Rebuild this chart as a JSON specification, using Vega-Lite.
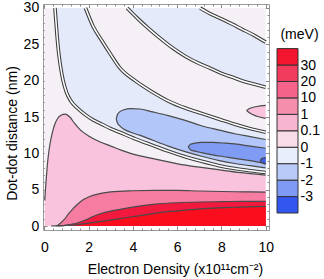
{
  "$schema": "https://vega.github.io/schema/vega-lite/v6.json",
  "padding": {"left": 4, "top": 0, "right": 0, "bottom": 0},
  "background": "white",
  "config": {
    "font": "Liberation Sans",
    "view": {"stroke": "#9a9a9a", "strokeWidth": 1},
    "axis": {"labelFont": "Liberation Sans", "titleFont": "Liberation Sans", "labelColor": "#000", "titleColor": "#000"}
  },
  "spacing": 8,
  "bounds": "flush",
  "resolve": {"scale": {"x": "independent", "y": "independent"}},
  "hconcat": [
    {
      "width": 226,
      "height": 226,
      "data": {"values": [
        {"r": "bg", "x": 0.02, "lo": 0, "hi": 30},
        {"r": "bg", "x": 10, "lo": 0, "hi": 30},
        {"r": "A", "x": 0.48, "lo": 30, "hi": 30},
        {"r": "A", "x": 0.52, "lo": 28.4, "hi": 30},
        {"r": "A", "x": 0.58, "lo": 26.0, "hi": 30},
        {"r": "A", "x": 0.65, "lo": 23.8, "hi": 30},
        {"r": "A", "x": 0.75, "lo": 21.6, "hi": 30},
        {"r": "A", "x": 0.85, "lo": 20.0, "hi": 30},
        {"r": "A", "x": 1.0, "lo": 18.4, "hi": 30},
        {"r": "A", "x": 1.2, "lo": 17.2, "hi": 30},
        {"r": "A", "x": 1.5, "lo": 16.2, "hi": 30},
        {"r": "A", "x": 1.86, "lo": 15.3, "hi": 30},
        {"r": "A", "x": 2.2, "lo": 14.6, "hi": 27.5},
        {"r": "A", "x": 2.6, "lo": 14.0, "hi": 25.5},
        {"r": "A", "x": 3.0, "lo": 13.4, "hi": 23.6},
        {"r": "A", "x": 3.4, "lo": 12.9, "hi": 21.8},
        {"r": "A", "x": 4.1, "lo": 12.0, "hi": 20.0},
        {"r": "A", "x": 4.9, "lo": 11.1, "hi": 18.4},
        {"r": "A", "x": 5.6, "lo": 10.3, "hi": 17.2},
        {"r": "A", "x": 6.4, "lo": 9.5, "hi": 16.2},
        {"r": "A", "x": 7.1, "lo": 8.9, "hi": 15.5},
        {"r": "A", "x": 7.9, "lo": 8.3, "hi": 14.7},
        {"r": "A", "x": 8.6, "lo": 7.9, "hi": 14.0},
        {"r": "A", "x": 9.3, "lo": 7.6, "hi": 13.4},
        {"r": "A", "x": 10, "lo": 7.35, "hi": 12.9},
        {"r": "B", "x": 3.74, "lo": 30, "hi": 30},
        {"r": "B", "x": 4.2, "lo": 28.6, "hi": 30},
        {"r": "B", "x": 4.7, "lo": 27.2, "hi": 30},
        {"r": "B", "x": 5.17, "lo": 26.0, "hi": 30},
        {"r": "B", "x": 5.8, "lo": 24.5, "hi": 30},
        {"r": "B", "x": 6.4, "lo": 23.3, "hi": 30},
        {"r": "B", "x": 7.04, "lo": 22.3, "hi": 30},
        {"r": "B", "x": 7.5, "lo": 21.7, "hi": 29.2},
        {"r": "B", "x": 8.0, "lo": 21.0, "hi": 28.5},
        {"r": "B", "x": 8.47, "lo": 20.5, "hi": 27.8},
        {"r": "B", "x": 8.92, "lo": 20.0, "hi": 27.1},
        {"r": "B", "x": 9.5, "lo": 19.5, "hi": 26.2},
        {"r": "B", "x": 10, "lo": 19.1, "hi": 25.3},
        {"r": "T", "x": 9.14, "lo": 15.9, "hi": 15.9},
        {"r": "T", "x": 9.3, "lo": 15.5, "hi": 16.2},
        {"r": "T", "x": 9.6, "lo": 15.1, "hi": 16.45},
        {"r": "T", "x": 10, "lo": 14.8, "hi": 16.6},
        {"r": "M", "x": 3.25, "lo": 14.75, "hi": 14.75},
        {"r": "M", "x": 3.3, "lo": 14.2, "hi": 15.3},
        {"r": "M", "x": 3.4, "lo": 13.8, "hi": 15.7},
        {"r": "M", "x": 3.6, "lo": 13.3, "hi": 16.0},
        {"r": "M", "x": 3.9, "lo": 12.9, "hi": 16.15},
        {"r": "M", "x": 4.3, "lo": 12.5, "hi": 16.1},
        {"r": "M", "x": 4.9, "lo": 11.8, "hi": 15.7},
        {"r": "M", "x": 5.6, "lo": 11.0, "hi": 15.2},
        {"r": "M", "x": 6.4, "lo": 10.2, "hi": 14.5},
        {"r": "M", "x": 7.1, "lo": 9.6, "hi": 13.8},
        {"r": "M", "x": 7.9, "lo": 9.0, "hi": 13.2},
        {"r": "M", "x": 8.6, "lo": 8.6, "hi": 12.7},
        {"r": "M", "x": 9.3, "lo": 8.3, "hi": 12.3},
        {"r": "M", "x": 10, "lo": 8.0, "hi": 11.9},
        {"r": "D", "x": 6.5, "lo": 10.9, "hi": 10.9},
        {"r": "D", "x": 6.6, "lo": 10.5, "hi": 11.25},
        {"r": "D", "x": 6.8, "lo": 10.3, "hi": 11.4},
        {"r": "D", "x": 7.1, "lo": 10.1, "hi": 11.5},
        {"r": "D", "x": 7.6, "lo": 9.8, "hi": 11.5},
        {"r": "D", "x": 8.2, "lo": 9.5, "hi": 11.4},
        {"r": "D", "x": 8.6, "lo": 9.3, "hi": 11.3},
        {"r": "D", "x": 9.3, "lo": 9.0, "hi": 11.0},
        {"r": "D", "x": 10, "lo": 8.6, "hi": 10.7},
        {"r": "E", "x": 9.75, "lo": 9.0, "hi": 9.0},
        {"r": "E", "x": 9.82, "lo": 8.75, "hi": 9.25},
        {"r": "E", "x": 9.9, "lo": 8.6, "hi": 9.35},
        {"r": "E", "x": 10, "lo": 8.5, "hi": 9.4},
        {"r": "P", "x": 0.02, "lo": 0, "hi": 3.5},
        {"r": "P", "x": 0.05, "lo": 0, "hi": 5.0},
        {"r": "P", "x": 0.1, "lo": 0, "hi": 7.0},
        {"r": "P", "x": 0.15, "lo": 0, "hi": 8.8},
        {"r": "P", "x": 0.22, "lo": 0, "hi": 10.6},
        {"r": "P", "x": 0.3, "lo": 0, "hi": 12.0},
        {"r": "P", "x": 0.4, "lo": 0, "hi": 13.3},
        {"r": "P", "x": 0.5, "lo": 0, "hi": 14.2},
        {"r": "P", "x": 0.6, "lo": 0, "hi": 14.8},
        {"r": "P", "x": 0.75, "lo": 0, "hi": 15.25},
        {"r": "P", "x": 0.95, "lo": 0, "hi": 15.4},
        {"r": "P", "x": 1.15, "lo": 0, "hi": 15.0},
        {"r": "P", "x": 1.35, "lo": 0, "hi": 14.2},
        {"r": "P", "x": 1.6, "lo": 0, "hi": 13.3},
        {"r": "P", "x": 2.0, "lo": 0, "hi": 12.4},
        {"r": "P", "x": 2.5, "lo": 0, "hi": 11.6},
        {"r": "P", "x": 3.0, "lo": 0, "hi": 11.0},
        {"r": "P", "x": 3.5, "lo": 0, "hi": 10.4},
        {"r": "P", "x": 4.0, "lo": 0, "hi": 9.9},
        {"r": "P", "x": 4.7, "lo": 0, "hi": 9.4},
        {"r": "P", "x": 5.5, "lo": 0, "hi": 8.9},
        {"r": "P", "x": 6.3, "lo": 0, "hi": 8.4},
        {"r": "P", "x": 7.0, "lo": 0, "hi": 8.1},
        {"r": "P", "x": 8.0, "lo": 0, "hi": 7.7},
        {"r": "P", "x": 9.0, "lo": 0, "hi": 7.3},
        {"r": "P", "x": 10, "lo": 0, "hi": 7.0},
        {"r": "Q", "x": 0.55, "lo": 0, "hi": 0},
        {"r": "Q", "x": 0.7, "lo": 0, "hi": 0.3},
        {"r": "Q", "x": 0.9, "lo": 0, "hi": 0.9},
        {"r": "Q", "x": 1.1, "lo": 0, "hi": 1.7},
        {"r": "Q", "x": 1.3, "lo": 0, "hi": 2.4},
        {"r": "Q", "x": 1.5, "lo": 0, "hi": 3.0},
        {"r": "Q", "x": 1.75, "lo": 0, "hi": 3.6},
        {"r": "Q", "x": 2.0, "lo": 0, "hi": 4.0},
        {"r": "Q", "x": 2.5, "lo": 0, "hi": 4.45},
        {"r": "Q", "x": 3.0, "lo": 0, "hi": 4.7},
        {"r": "Q", "x": 4.0, "lo": 0, "hi": 4.85},
        {"r": "Q", "x": 5.0, "lo": 0, "hi": 4.9},
        {"r": "Q", "x": 6.0, "lo": 0, "hi": 4.9},
        {"r": "Q", "x": 7.0, "lo": 0, "hi": 4.82},
        {"r": "Q", "x": 8.0, "lo": 0, "hi": 4.75},
        {"r": "Q", "x": 9.0, "lo": 0, "hi": 4.7},
        {"r": "Q", "x": 10, "lo": 0, "hi": 4.67},
        {"r": "R", "x": 0.6, "lo": 0, "hi": 0},
        {"r": "R", "x": 1.0, "lo": 0, "hi": 0.12},
        {"r": "R", "x": 1.4, "lo": 0, "hi": 0.35},
        {"r": "R", "x": 1.8, "lo": 0, "hi": 0.75},
        {"r": "R", "x": 2.2, "lo": 0, "hi": 1.3},
        {"r": "R", "x": 2.6, "lo": 0, "hi": 1.75},
        {"r": "R", "x": 3.0, "lo": 0, "hi": 2.05},
        {"r": "R", "x": 3.6, "lo": 0, "hi": 2.4},
        {"r": "R", "x": 4.2, "lo": 0, "hi": 2.7},
        {"r": "R", "x": 5.0, "lo": 0, "hi": 3.0},
        {"r": "R", "x": 6.0, "lo": 0, "hi": 3.2},
        {"r": "R", "x": 7.0, "lo": 0, "hi": 3.3},
        {"r": "R", "x": 8.0, "lo": 0, "hi": 3.35},
        {"r": "R", "x": 9.0, "lo": 0, "hi": 3.4},
        {"r": "R", "x": 10, "lo": 0, "hi": 3.4},
        {"r": "S", "x": 0.3, "lo": 0, "hi": 0},
        {"r": "S", "x": 1.0, "lo": 0, "hi": 0.08},
        {"r": "S", "x": 1.5, "lo": 0, "hi": 0.2},
        {"r": "S", "x": 2.0, "lo": 0, "hi": 0.4},
        {"r": "S", "x": 2.9, "lo": 0, "hi": 0.78},
        {"r": "S", "x": 3.6, "lo": 0, "hi": 1.1},
        {"r": "S", "x": 4.4, "lo": 0, "hi": 1.47},
        {"r": "S", "x": 5.2, "lo": 0, "hi": 1.85},
        {"r": "S", "x": 5.9, "lo": 0, "hi": 2.06},
        {"r": "S", "x": 6.6, "lo": 0, "hi": 2.25},
        {"r": "S", "x": 7.4, "lo": 0, "hi": 2.43},
        {"r": "S", "x": 8.5, "lo": 0, "hi": 2.58},
        {"r": "S", "x": 10, "lo": 0, "hi": 2.7}
      ]},
      "encoding": {
        "x": {"field": "x", "type": "quantitative", "scale": {"domain": [-0.06, 10.15], "nice": false, "zero": false}, "axis": null},
        "y": {"field": "lo", "type": "quantitative", "scale": {"domain": [-0.55, 30.55], "nice": false, "zero": false}, "axis": null}
      },
      "resolve": {"axis": {"x": "independent", "y": "independent"}},
      "layer": [
        {
          "transform": [{"filter": "datum.r == 'bg'"}],
          "mark": {"type": "area", "color": "#f5f0f5", "opacity": 1},
          "encoding": {
            "x": {"field": "x", "type": "quantitative", "scale": {"domain": [-0.06, 10.15], "nice": false, "zero": false},
              "axis": {"orient": "bottom", "values": [0, 2, 4, 6, 8, 10], "tickSize": -4, "tickColor": "#888", "domain": false, "grid": false, "labelFlush": false, "labelOverlap": false, "labelPadding": 14, "labelFontSize": 14, "title": "Electron Density (x10¹¹cm⁻²)", "titleFontSize": 14, "titleFontWeight": "normal", "titlePadding": 8, "titleX": 132, "titleAlign": "center"}},
            "y": {"field": "lo", "type": "quantitative", "scale": {"domain": [-0.55, 30.55], "nice": false, "zero": false},
              "axis": {"orient": "left", "values": [0, 5, 10, 15, 20, 25, 30], "tickSize": -4, "tickColor": "#888", "domain": false, "grid": false, "labelFlush": false, "labelOverlap": false, "labelPadding": 8.3, "labelFontSize": 14, "title": "Dot-dot distance (nm)", "titleFontSize": 14, "titleFontWeight": "normal", "titlePadding": 4, "titleY": 129, "titleAlign": "center"}},
            "y2": {"field": "hi"}
          }
        },
        {
          "transform": [{"filter": "datum.r == 'A'"}],
          "mark": {"type": "area", "color": "#e4eaf9", "opacity": 1, "interpolate": "monotone"},
          "encoding": {
            "x": {"field": "x", "type": "quantitative", "scale": {"domain": [-0.06, 10.15], "nice": false, "zero": false},
              "axis": {"orient": "bottom", "values": [0.4, 0.8, 1.2, 1.6, 2.4, 2.8, 3.2, 3.6, 4.4, 4.8, 5.2, 5.6, 6.4, 6.8, 7.2, 7.6, 8.4, 8.8, 9.2, 9.6], "tickSize": -2, "tickColor": "#888", "domain": false, "grid": false, "labels": false, "title": null}},
            "y": {"field": "lo", "type": "quantitative", "scale": {"domain": [-0.55, 30.55], "nice": false, "zero": false},
              "axis": {"orient": "left", "values": [1, 2, 3, 4, 6, 7, 8, 9, 11, 12, 13, 14, 16, 17, 18, 19, 21, 22, 23, 24, 26, 27, 28, 29], "tickSize": -2, "tickColor": "#888", "domain": false, "grid": false, "labels": false, "title": null}},
            "y2": {"field": "hi"}
          }
        },
        {
          "transform": [{"filter": "datum.r == 'B'"}],
          "mark": {"type": "area", "color": "#e4eaf9", "opacity": 1, "interpolate": "monotone"},
          "encoding": {
            "x": {"field": "x", "type": "quantitative", "scale": {"domain": [-0.06, 10.15], "nice": false, "zero": false},
              "axis": {"orient": "top", "values": [0, 2, 4, 6, 8, 10], "tickSize": -4, "tickColor": "#888", "domain": false, "grid": false, "labels": false, "title": null}},
            "y": {"field": "lo", "type": "quantitative", "scale": {"domain": [-0.55, 30.55], "nice": false, "zero": false},
              "axis": {"orient": "right", "values": [0, 5, 10, 15, 20, 25, 30], "tickSize": -4, "tickColor": "#888", "domain": false, "grid": false, "labels": false, "title": null}},
            "y2": {"field": "hi"}
          }
        },
        {
          "transform": [{"filter": "datum.r == 'T'"}],
          "mark": {"type": "area", "color": "#f9c3dd", "opacity": 1, "interpolate": "monotone"},
          "encoding": {
            "x": {"field": "x", "type": "quantitative", "scale": {"domain": [-0.06, 10.15], "nice": false, "zero": false},
              "axis": {"orient": "top", "values": [0.4, 0.8, 1.2, 1.6, 2.4, 2.8, 3.2, 3.6, 4.4, 4.8, 5.2, 5.6, 6.4, 6.8, 7.2, 7.6, 8.4, 8.8, 9.2, 9.6], "tickSize": -2, "tickColor": "#888", "domain": false, "grid": false, "labels": false, "title": null}},
            "y": {"field": "lo", "type": "quantitative", "scale": {"domain": [-0.55, 30.55], "nice": false, "zero": false},
              "axis": {"orient": "right", "values": [1, 2, 3, 4, 6, 7, 8, 9, 11, 12, 13, 14, 16, 17, 18, 19, 21, 22, 23, 24, 26, 27, 28, 29], "tickSize": -2, "tickColor": "#888", "domain": false, "grid": false, "labels": false, "title": null}},
            "y2": {"field": "hi"}
          }
        },
        {
          "transform": [{"filter": "datum.r == 'M'"}],
          "mark": {"type": "area", "color": "#b3c6f9", "opacity": 1, "interpolate": "monotone"},
          "encoding": {"y2": {"field": "hi"}}
        },
        {
          "transform": [{"filter": "datum.r == 'D'"}],
          "mark": {"type": "area", "color": "#7f9bf4", "opacity": 1, "interpolate": "monotone"},
          "encoding": {"y2": {"field": "hi"}}
        },
        {
          "transform": [{"filter": "datum.r == 'E'"}],
          "mark": {"type": "area", "color": "#3a5cf0", "opacity": 1, "interpolate": "monotone"},
          "encoding": {"y2": {"field": "hi"}}
        },
        {
          "transform": [{"filter": "datum.r == 'P'"}],
          "mark": {"type": "area", "color": "#f9c3dd", "opacity": 1, "interpolate": "monotone"},
          "encoding": {"y2": {"field": "hi"}}
        },
        {
          "transform": [{"filter": "datum.r == 'Q'"}],
          "mark": {"type": "area", "color": "#f77ca1", "opacity": 1, "interpolate": "monotone"},
          "encoding": {"y2": {"field": "hi"}}
        },
        {
          "transform": [{"filter": "datum.r == 'R'"}],
          "mark": {"type": "area", "color": "#f2193e", "opacity": 1, "interpolate": "monotone"},
          "encoding": {"y2": {"field": "hi"}}
        },
        {
          "transform": [{"filter": "datum.r == 'S'"}],
          "mark": {"type": "area", "color": "#fa0d1d", "opacity": 1, "interpolate": "monotone"},
          "encoding": {"y2": {"field": "hi"}}
        },
        {
          "transform": [
            {"filter": "indexof(['P','Q','R','S','M','D','E','T'], datum.r) >= 0"},
            {"fold": ["lo", "hi"], "as": ["edge", "lo"]},
            {"filter": "!(datum.edge == 'lo' && indexof(['P','Q','R','S'], datum.r) >= 0)"}
          ],
          "mark": {"type": "line", "color": "#4a4a4a", "strokeWidth": 1.2, "interpolate": "monotone"},
          "encoding": {"detail": [{"field": "r", "type": "nominal"}, {"field": "edge", "type": "nominal"}]}
        },
        {
          "transform": [
            {"filter": "datum.r == 'A' || datum.r == 'B'"},
            {"fold": ["lo", "hi"], "as": ["edge", "lo"]},
            {"filter": "datum.edge == 'lo' || datum.x >= (datum.r == 'A' ? 1.86 : 7.04)"}
          ],
          "mark": {"type": "line", "color": "#3c3c3c", "strokeWidth": 3.6, "interpolate": "monotone"},
          "encoding": {"detail": [{"field": "r", "type": "nominal"}, {"field": "edge", "type": "nominal"}]}
        },
        {
          "transform": [
            {"filter": "datum.r == 'A' || datum.r == 'B'"},
            {"fold": ["lo", "hi"], "as": ["edge", "lo"]},
            {"filter": "datum.edge == 'lo' || datum.x >= (datum.r == 'A' ? 1.86 : 7.04)"}
          ],
          "mark": {"type": "line", "color": "#ffffff", "strokeWidth": 1.5, "interpolate": "monotone"},
          "encoding": {"detail": [{"field": "r", "type": "nominal"}, {"field": "edge", "type": "nominal"}]}
        }
      ]
    },
    {
      "width": 21,
      "height": 209,
      "view": {"stroke": null},
      "data": {"values": [
        {"b": 0, "t": 1, "band": "b0"},
        {"b": 1, "t": 2, "band": "b1"},
        {"b": 2, "t": 3, "band": "b2"},
        {"b": 3, "t": 4, "band": "b3"},
        {"b": 4, "t": 5, "band": "b4"},
        {"b": 5, "t": 6, "band": "b5"},
        {"b": 6, "t": 7, "band": "b6"},
        {"b": 7, "t": 8, "band": "b7"},
        {"b": 8, "t": 9, "band": "b8"},
        {"b": 9, "t": 10, "band": "b9"}
      ]},
      "mark": {"type": "rect", "stroke": "#333", "strokeWidth": 1},
      "encoding": {
        "y": {"field": "b", "type": "quantitative", "scale": {"domain": [0, 12.71], "nice": false, "zero": false},
          "axis": {"orient": "right", "values": [1, 2, 3, 4, 5, 6, 7, 8, 9], "labelExpr": "['-3','-2','-1','0','0.1','1','10','20','30'][datum.value - 1]", "ticks": false, "domain": false, "grid": false, "labelPadding": 2, "labelFontSize": 14, "labelAlign": "left", "labelBaseline": "middle", "labelOverlap": false, "labelFlush": false, "title": "(meV)", "titleAngle": 0, "titleFontSize": 14, "titleFontWeight": "normal", "titleX": 1, "titleY": 30, "titleAlign": "center", "titleBaseline": "middle"}},
        "y2": {"field": "t"},
        "fill": {"field": "band", "type": "nominal", "legend": null,
          "scale": {"domain": ["b0", "b1", "b2", "b3", "b4", "b5", "b6", "b7", "b8", "b9"],
            "range": ["#3355f0", "#7e9af4", "#b7caf8", "#e8eefa", "#f8dde9", "#f7b5cf", "#f58dad", "#f5638b", "#f23c5e", "#f2152d"]}}
      }
    }
  ]
}
